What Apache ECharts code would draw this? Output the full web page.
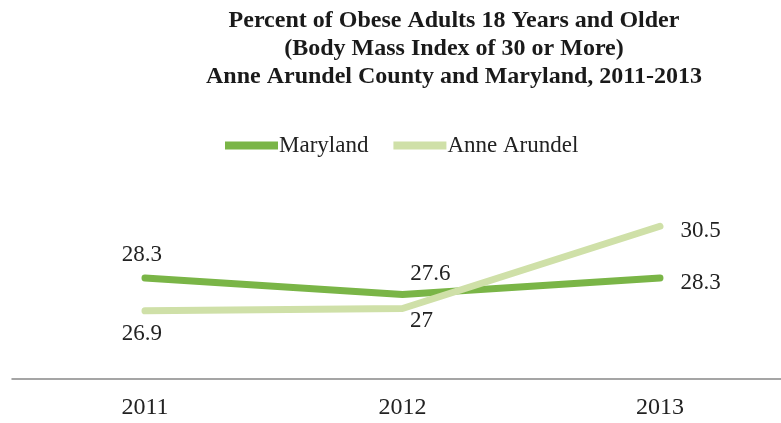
<!DOCTYPE html>
<html><head><meta charset="utf-8">
<script src="https://cdn.jsdelivr.net/npm/echarts@6/dist/echarts.min.js"></script>
<style>html,body{margin:0;padding:0;background:#fff}#c{width:781px;height:423px}</style>
</head><body><div id="c"></div>
<script>
const years = ['2011', '2012', '2013'];
const maryland = [28.3, 27.6, 28.3];
const anneArundel = [26.9, 27, 30.5];
const titleLines = ['Percent of Obese Adults 18 Years and Older', '(Body Mass Index of 30 or More)', 'Anne Arundel County and Maryland, 2011-2013'];

const FONT = 'Liberation Serif';
const yearNums = years.map(Number);
const mdPos = [['top', [-3, -6]], ['top', [28, -3]], ['right', [15, 5]]];
const aaPos = [['bottom', [-3, 6]], ['bottom', [19, -5]], ['right', [15, 5]]];

const chart = echarts.init(document.getElementById('c'));
chart.setOption({
  animation: false,
  title: {
    text: titleLines.join('\n'),
    left: 449, top: 2, textAlign: 'center',
    textStyle: { fontFamily: FONT, fontWeight: 'bold', fontSize: 24, lineHeight: 28, color: '#1a1a1a' }
  },
  legend: {
    top: 129, left: 220, itemWidth: 53, itemHeight: 8, itemGap: 25,
    textStyle: { fontFamily: FONT, fontSize: 23, color: '#222', padding: [0, 0, 0, -4] },
    icon: 'rect',
    data: ['Maryland', 'Anne Arundel']
  },
  grid: { left: 12, right: 0, top: 191, height: 188 },
  xAxis: {
    type: 'value', min: 2010.4835, max: 2013.47,
    splitLine: { show: false },
    axisLine: { onZero: false, lineStyle: { color: '#888', width: 1.5 } },
    axisTick: { show: false },
    axisLabel: { fontFamily: FONT, fontSize: 24, color: '#222', margin: 17,
      customValues: yearNums, formatter: v => String(v) }
  },
  yAxis: {
    type: 'value', min: 24, max: 32, interval: 2,
    show: false, splitLine: { show: false }
  },
  series: [
    {
      name: 'Maryland', type: 'line', data: maryland.map((v, i) => ({
        value: [yearNums[i], v], label: { position: mdPos[i][0], offset: mdPos[i][1] }
      })),
      symbol: 'circle', symbolSize: 1, showSymbol: true, color: '#7ab547',
      lineStyle: { width: 7, color: '#7ab547', cap: 'round' },
      label: { show: true, fontFamily: FONT, fontSize: 23, color: '#222', formatter: p => String(p.value[1]) }
    },
    {
      name: 'Anne Arundel', type: 'line', data: anneArundel.map((v, i) => ({
        value: [yearNums[i], v], label: { position: aaPos[i][0], offset: aaPos[i][1] }
      })),
      symbol: 'circle', symbolSize: 1, showSymbol: true, color: '#cfe0a8',
      lineStyle: { width: 7, color: '#cfe0a8', cap: 'round' },
      label: { show: true, fontFamily: FONT, fontSize: 23, color: '#222', formatter: p => String(p.value[1]) }
    }
  ]
});
</script></body></html>
